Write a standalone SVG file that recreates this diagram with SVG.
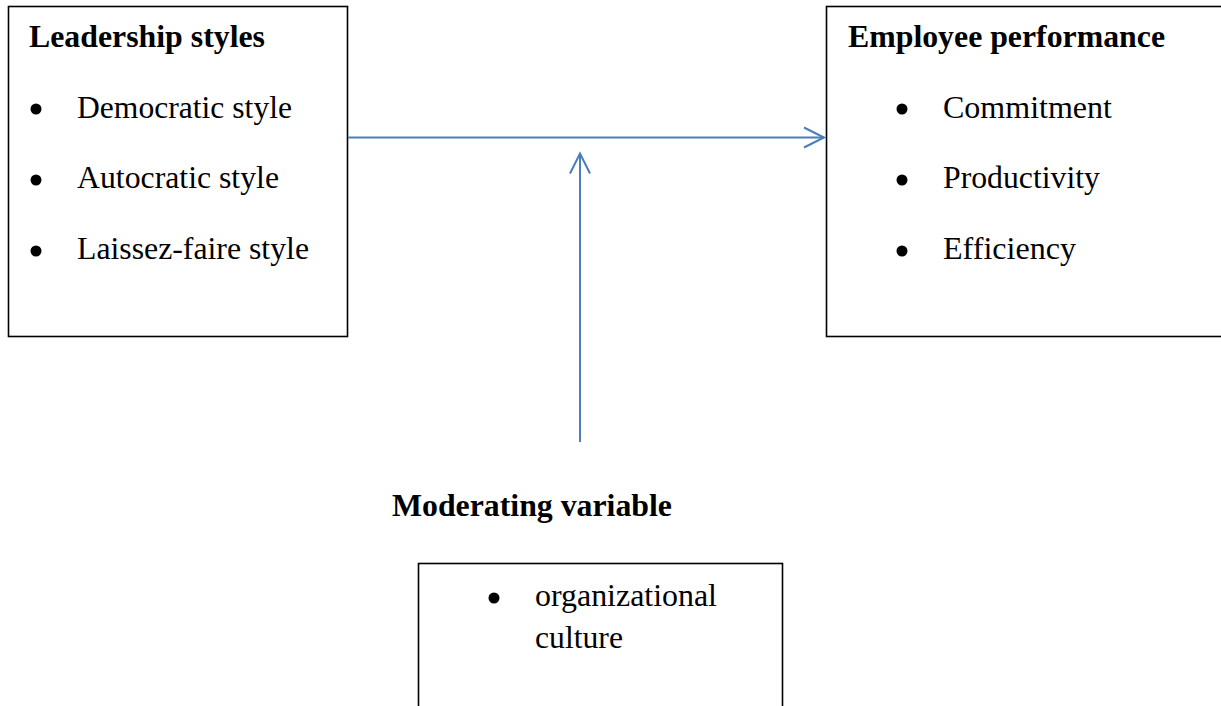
<svg xmlns="http://www.w3.org/2000/svg" width="1221" height="706" viewBox="0 0 1221 706">
  <style>
    .box { fill: #ffffff; stroke: #000000; stroke-width: 1.6; }
    .head { font-family: "Liberation Serif", "Times New Roman", serif; font-weight: bold; font-size: 31.5px; fill: #000000; }
    .item { font-family: "Liberation Serif", "Times New Roman", serif; font-size: 31.5px; fill: #000000; }
    .dot { fill: #000000; }
    .link { fill: none; stroke: #4a7ebb; stroke-width: 2; }
  </style>
  <defs>
    <marker id="open-arrow" markerUnits="userSpaceOnUse" markerWidth="24" markerHeight="24" refX="20" refY="11" orient="auto" overflow="visible">
      <path d="M0,1 L20,11 L0,21" fill="none" stroke="#4a7ebb" stroke-width="2"/>
    </marker>
  </defs>
  <rect width="1221" height="706" fill="#ffffff"/>

  <g id="leadership-styles">
    <rect class="box" x="8.5" y="6.5" width="339" height="330"/>
    <text class="head" x="29" y="47" textLength="236" lengthAdjust="spacingAndGlyphs">Leadership styles</text>
    <circle class="dot" cx="36" cy="109" r="5.5"/>
    <text class="item" x="77" y="117.5" textLength="215" lengthAdjust="spacingAndGlyphs">Democratic style</text>
    <circle class="dot" cx="36" cy="180" r="5.5"/>
    <text class="item" x="77" y="188" textLength="202" lengthAdjust="spacingAndGlyphs">Autocratic style</text>
    <circle class="dot" cx="36" cy="251" r="5.5"/>
    <text class="item" x="77" y="258.5" textLength="232" lengthAdjust="spacingAndGlyphs">Laissez-faire style</text>
  </g>

  <g id="employee-performance">
    <rect class="box" x="826.5" y="6.5" width="400" height="330"/>
    <text class="head" x="848" y="47" textLength="317" lengthAdjust="spacingAndGlyphs">Employee performance</text>
    <circle class="dot" cx="902" cy="109" r="5.5"/>
    <text class="item" x="943" y="117.5" textLength="169" lengthAdjust="spacingAndGlyphs">Commitment</text>
    <circle class="dot" cx="902" cy="180" r="5.5"/>
    <text class="item" x="943" y="188" textLength="157" lengthAdjust="spacingAndGlyphs">Productivity</text>
    <circle class="dot" cx="902" cy="251" r="5.5"/>
    <text class="item" x="943" y="258.5" textLength="133" lengthAdjust="spacingAndGlyphs">Efficiency</text>
  </g>

  <g id="moderating-variable">
    <text class="head" x="392" y="516" textLength="280" lengthAdjust="spacingAndGlyphs">Moderating variable</text>
    <rect class="box" x="418.5" y="563.5" width="364" height="160"/>
    <circle class="dot" cx="494" cy="598" r="5.5"/>
    <text class="item" x="535" y="606" textLength="182" lengthAdjust="spacingAndGlyphs">organizational</text>
    <text class="item" x="535" y="648" textLength="88" lengthAdjust="spacingAndGlyphs">culture</text>
  </g>

  <g id="connectors">
    <line class="link" x1="348" y1="137.5" x2="824" y2="137.5" marker-end="url(#open-arrow)"/>
    <line class="link" x1="580" y1="442" x2="580" y2="153.5" marker-end="url(#open-arrow)"/>
  </g>
</svg>
